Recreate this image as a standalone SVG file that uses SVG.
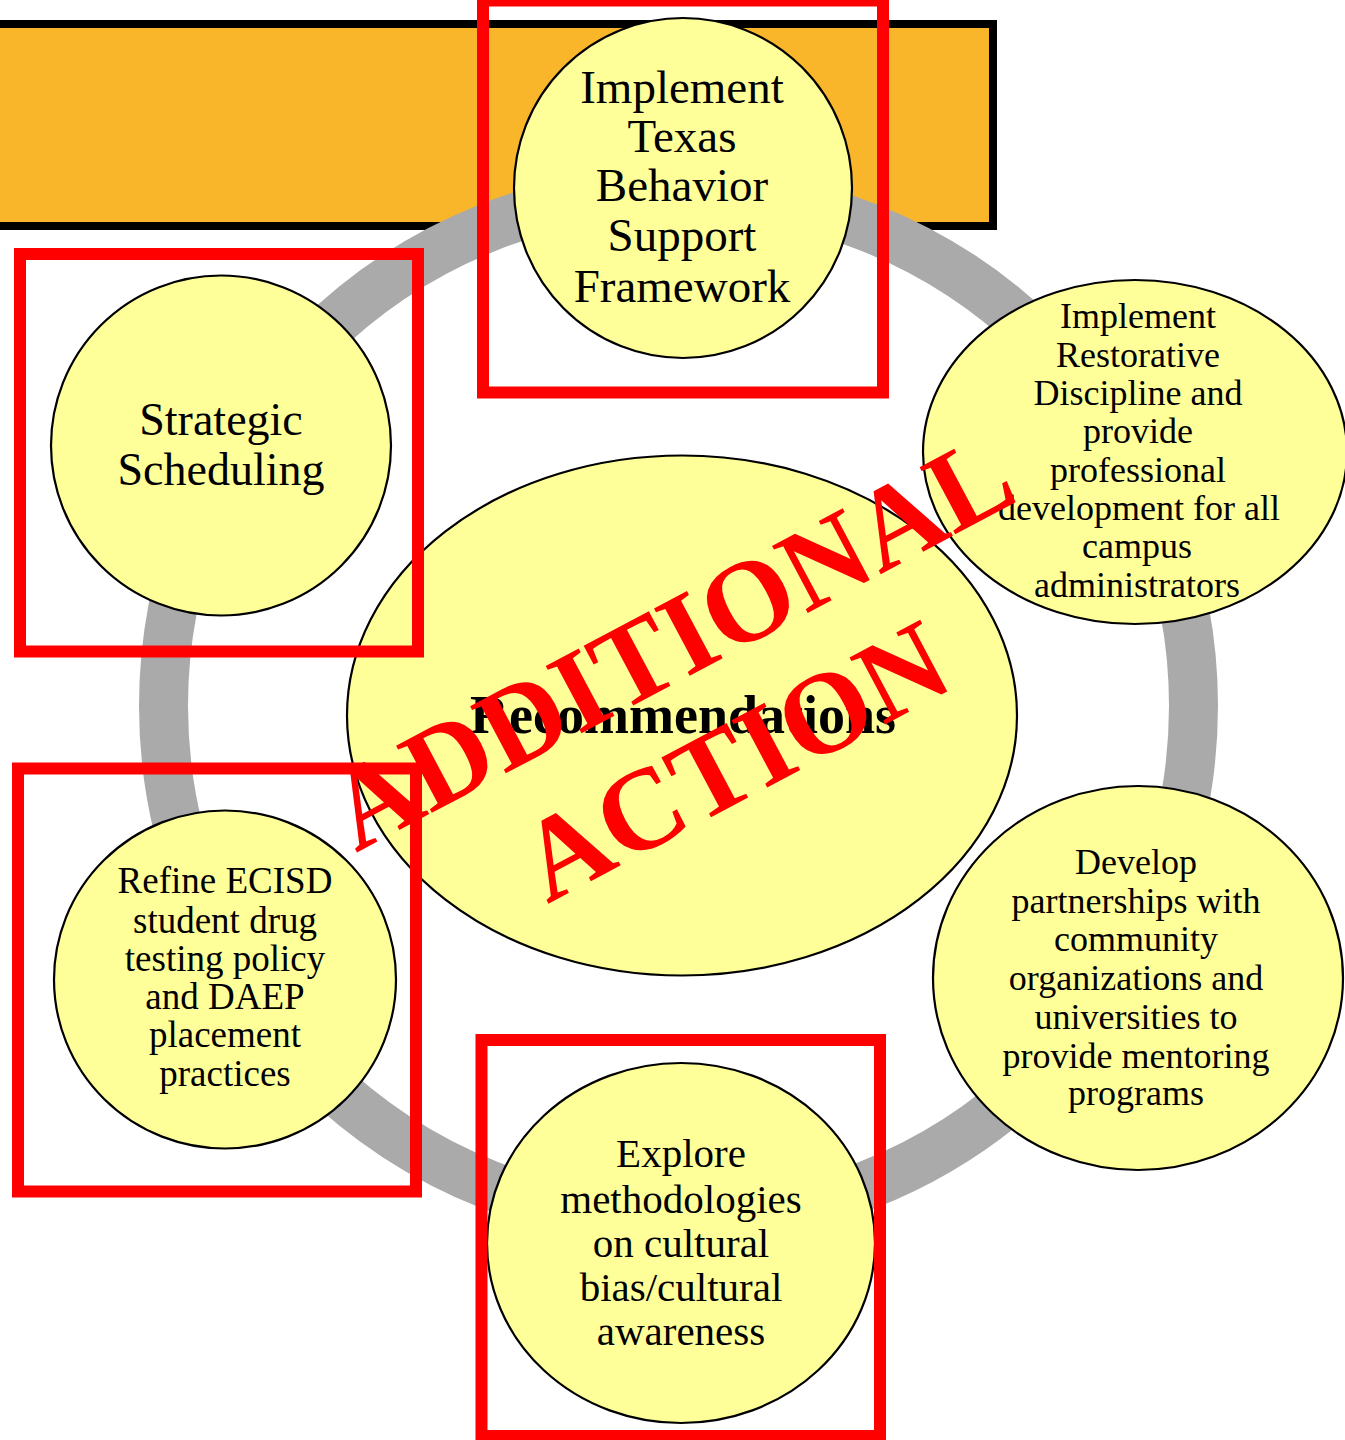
<svg xmlns="http://www.w3.org/2000/svg" width="1345" height="1440" viewBox="0 0 1345 1440">
<style>
.node{fill:#FFFF99;stroke:#000;stroke-width:2.2}
.t{font-family:"Liberation Serif","Times New Roman",serif;fill:#000;text-anchor:middle}
.frame{fill:none;stroke:#FF0000;stroke-width:12}
.stamp{font-family:"Liberation Serif","Times New Roman",serif;fill:#FF0000;font-size:116px;font-weight:bold;text-anchor:middle}
</style>
<rect x="-20" y="24" width="1013" height="202" fill="#FAB62B" stroke="#000" stroke-width="8"/>
<g id="connectors">
<circle cx="678.5" cy="706" r="515" fill="none" stroke="#AAAAAA" stroke-width="49"/>
</g>
<g id="node-center">
<ellipse class="node" cx="682" cy="715.5" rx="335" ry="260"/>
<text class="t" x="683" y="733" font-size="54" font-weight="bold">Recommendations</text>
</g>
<g id="node-tbsf">
<ellipse class="node" cx="683" cy="188" rx="169" ry="170"/>
<text class="t" font-size="47"><tspan x="682" y="103">Implement</tspan><tspan x="682" y="152">Texas</tspan><tspan x="682" y="201">Behavior</tspan><tspan x="682" y="251">Support</tspan><tspan x="682" y="302">Framework</tspan></text>
</g>
<g id="node-restorative">
<ellipse class="node" cx="1135" cy="452" rx="212" ry="172"/>
<text class="t" font-size="36"><tspan x="1138" y="328">Implement</tspan><tspan x="1138" y="367">Restorative</tspan><tspan x="1138" y="405">Discipline and</tspan><tspan x="1138" y="443">provide</tspan><tspan x="1138" y="482">professional</tspan><tspan x="1139" y="520">development for all</tspan><tspan x="1137" y="558">campus</tspan><tspan x="1137" y="597">administrators</tspan></text>
</g>
<g id="node-partnerships">
<ellipse class="node" cx="1138" cy="978" rx="205" ry="192"/>
<text class="t" font-size="36"><tspan x="1136" y="874">Develop</tspan><tspan x="1136" y="913">partnerships with</tspan><tspan x="1136" y="951">community</tspan><tspan x="1136" y="990">organizations and</tspan><tspan x="1136" y="1029">universities to</tspan><tspan x="1136" y="1068">provide mentoring</tspan><tspan x="1136" y="1105">programs</tspan></text>
</g>
<g id="node-cultural">
<ellipse class="node" cx="681" cy="1243" rx="194" ry="180"/>
<text class="t" font-size="41"><tspan x="681" y="1167">Explore</tspan><tspan x="681" y="1213">methodologies</tspan><tspan x="681" y="1257">on cultural</tspan><tspan x="681" y="1301">bias/cultural</tspan><tspan x="681" y="1345">awareness</tspan></text>
</g>
<g id="node-drug">
<ellipse class="node" cx="225" cy="979.5" rx="171" ry="169"/>
<text class="t" font-size="37"><tspan x="225" y="893">Refine ECISD</tspan><tspan x="225" y="933">student drug</tspan><tspan x="225" y="971">testing policy</tspan><tspan x="225" y="1009">and DAEP</tspan><tspan x="225" y="1047">placement</tspan><tspan x="225" y="1086">practices</tspan></text>
</g>
<g id="node-scheduling">
<ellipse class="node" cx="221" cy="445.5" rx="170" ry="170"/>
<text class="t" font-size="46"><tspan x="221" y="435">Strategic</tspan><tspan x="221" y="485">Scheduling</tspan></text>
</g>
<g id="frames">
<rect class="frame" x="483" y="0.5" width="400" height="392"/>
<rect class="frame" x="20" y="254" width="398" height="397.5"/>
<rect class="frame" x="18" y="768.5" width="398" height="423"/>
<rect class="frame" x="481.5" y="1040" width="398.5" height="396"/>
</g>
<g id="stamp" transform="translate(689,676) rotate(-28)">
<text class="stamp" x="0" y="0">ADDITIONAL</text>
<text class="stamp" x="0" y="135">ACTION</text>
</g>
</svg>
